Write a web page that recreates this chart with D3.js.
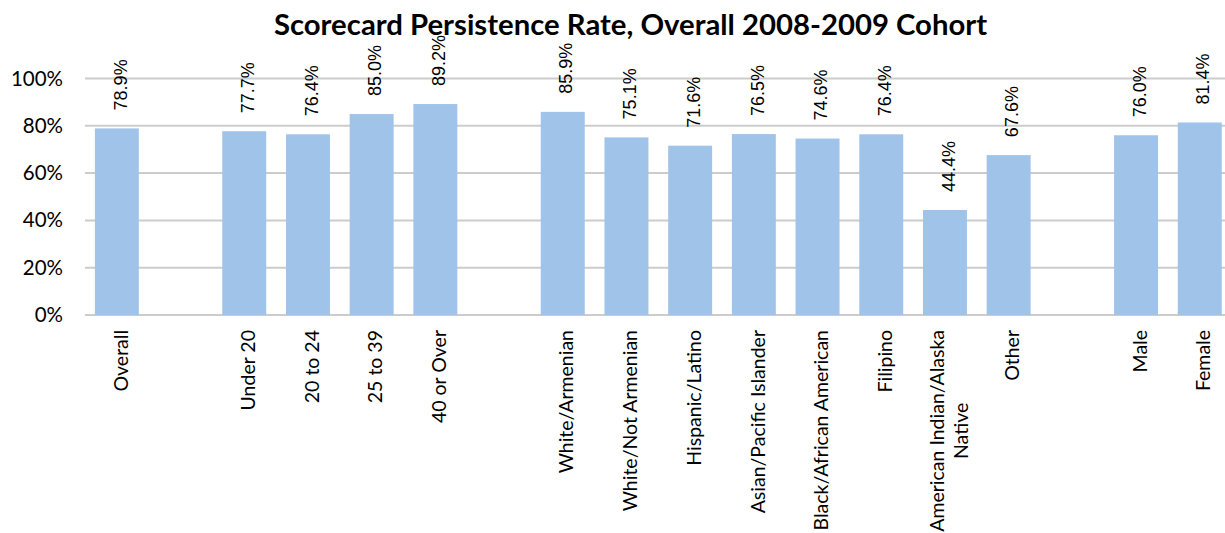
<!DOCTYPE html>
<html>
<head>
<meta charset="utf-8">
<script src="https://cdn.jsdelivr.net/npm/d3@7"></script>
<style>
  body { margin: 0; background: #fff; }
</style>
</head>
<body>
<svg id="chart" width="1225" height="533"></svg>
<script>
// slots along the x axis, blanks ("") are the gaps between groups
var categories = ["Overall", "", "Under 20", "20 to 24", "25 to 39", "40 or Over", "",
  "White/Armenian", "White/Not Armenian", "Hispanic/Latino", "Asian/Pacific Islander",
  "Black/African American", "Filipino", "American Indian/Alaska Native", "Other", "",
  "Male", "Female"];
var values = [0.789, null, 0.777, 0.764, 0.850, 0.892, null,
  0.859, 0.751, 0.716, 0.765, 0.746, 0.764, 0.444, 0.676, null,
  0.760, 0.814];
var yTicks = [0, 0.2, 0.4, 0.6, 0.8, 1.0];
var title = "Scorecard Persistence Rate, Overall 2008-2009 Cohort";

var svg = d3.select("#chart");

var slots = categories.map(function(c, i) { return { id: i, name: c, value: values[i] }; });

var x = d3.scaleBand()
  .domain(slots.map(function(d) { return d.id; }))
  .range([85, 85 + 18 * 63.7])
  .paddingInner(0.31)
  .paddingOuter(0.155);

var y = d3.scaleLinear()
  .domain([0, 1])
  .range([315, 78.5]);

// gridlines
svg.append("g")
  .selectAll("line")
  .data(yTicks)
  .enter().append("line")
  .attr("x1", 85)
  .attr("x2", 1232)
  .attr("y1", function(d) { return y(d); })
  .attr("y2", function(d) { return y(d); })
  .attr("stroke", "#cccccc")
  .attr("stroke-width", 2);

// y axis labels
var yAxis = d3.axisLeft(y)
  .tickValues(yTicks)
  .tickFormat(d3.format(".0%"))
  .tickSize(0)
  .tickPadding(0);

svg.append("g")
  .attr("transform", "translate(63,0)")
  .call(yAxis)
  .call(function(g) { g.select(".domain").remove(); })
  .selectAll("text")
  .attr("font-family", "Lato, sans-serif")
  .attr("font-size", "20.5px")
  .attr("fill", "#000");

var bars = slots.filter(function(d) { return d.value != null; });

svg.append("g")
  .selectAll("rect")
  .data(bars)
  .enter().append("rect")
  .attr("x", function(d) { return x(d.id); })
  .attr("width", x.bandwidth())
  .attr("y", function(d) { return y(d.value); })
  .attr("height", function(d) { return y(0) - y(d.value); })
  .attr("fill", "#9fc3e9");

// value labels above bars, rotated
svg.append("g")
  .selectAll("text")
  .data(bars)
  .enter().append("text")
  .attr("transform", function(d) {
    return "translate(" + (x(d.id) + x.bandwidth() / 2) + "," + (y(d.value) - 18) + ") rotate(-90)";
  })
  .attr("dy", "0.54em")
  .attr("font-family", "'Liberation Sans', Arial, sans-serif")
  .attr("font-size", "18px")
  .attr("fill", "#000")
  .text(function(d) { return d3.format(".1%")(d.value); });

// category labels, rotated, wrap the long one
var wrapped = { "American Indian/Alaska Native": ["American Indian/Alaska", "Native"] };

var cat = svg.append("g")
  .selectAll("text")
  .data(bars)
  .enter().append("text")
  .attr("font-family", "Lato, sans-serif")
  .attr("font-size", "19.5px")
  .attr("fill", "#000");

cat.each(function(d) {
  var t = d3.select(this);
  var lines = wrapped[d.name] || [d.name];
  var cx = x(d.id) + x.bandwidth() / 2;
  if (lines.length === 1) {
    t.attr("transform", "translate(" + cx + ",330) rotate(-90)")
      .attr("text-anchor", "end")
      .attr("dy", "0.55em")
      .text(d.name);
  } else {
    var spans = lines.map(function(l, i) {
      return t.append("tspan").attr("x", 0).attr("dy", i === 0 ? "0.55em" : "1.2em").text(l);
    });
    var L = d3.max(spans, function(s) { return s.node().getComputedTextLength(); });
    spans.forEach(function(s) { s.attr("x", -L / 2); });
    t.attr("text-anchor", "middle")
      .attr("transform", "translate(" + (cx - 11.5) + ",330) rotate(-90)");
  }
});

svg.append("text")
  .attr("x", 630.5)
  .attr("y", 35)
  .attr("text-anchor", "middle")
  .attr("font-family", "Lato, sans-serif")
  .attr("font-weight", "bold")
  .attr("font-size", "29.3px")
  .attr("fill", "#000")
  .text(title);
</script>
</body>
</html>
